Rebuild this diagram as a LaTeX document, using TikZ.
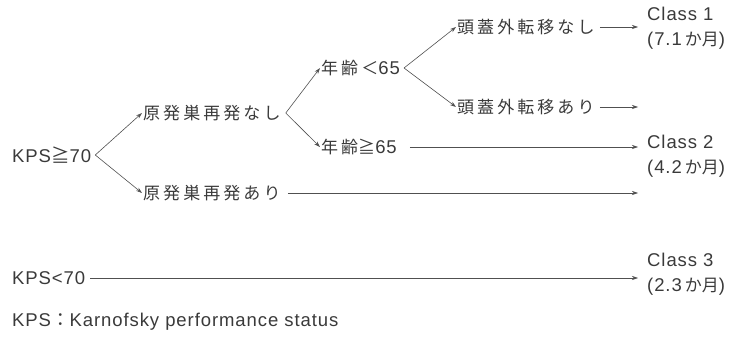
\documentclass[tikz,border=0pt]{standalone}
\usepackage{fontspec}
\usetikzlibrary{arrows.meta}
\setmainfont{Liberation Sans}
\newfontfamily\jp[LetterSpace=18]{Noto Sans CJK JP}
\newfontfamily\jpn{Noto Sans CJK JP}
\newfontfamily\lat[LetterSpace=5]{Liberation Sans}
\definecolor{ink}{HTML}{3A3A3A}
\definecolor{wire}{HTML}{505050}
\tikzset{
  lbl/.style={anchor=west, inner sep=1pt, text=ink, font=\fontsize{17}{20}\selectfont},
  cls/.style={anchor=west, inner sep=1pt, text=ink, align=left, font=\fontsize{18.5}{25}\selectfont},
  arr/.style={draw=wire, line width=0.6pt, -{Stealth[length=6pt,width=4pt]}},
}
\begin{document}
\begin{tikzpicture}[x=1pt,y=-1pt]
\useasboundingbox (0,0) rectangle (739,337);
\node[lbl] (k70) at (11,155) {{\fontsize{18.5}{20}\selectfont\lat KPS\jpn ≧\lat 70}};
\node[lbl] (n1) at (142,113) {\jp 原発巣再発なし};
\node[lbl] (n2) at (142,193) {\jp 原発巣再発あり};
\node[lbl] (a1) at (320,68) {\jp 年齢＜{\fontsize{18.5}{20}\selectfont\lat 65}};
\node[lbl] (a2) at (320,147) {\jp 年齢\jpn ≧{\fontsize{18.5}{20}\selectfont\lat 65}};
\node[lbl] (e1) at (456,27) {\jp 頭蓋外転移なし};
\node[lbl] (e2) at (456,107) {\jp 頭蓋外転移あり};
\node[cls] (c1) at (646,28) {{\lat Class 1}\\{\lat (7.1\,}{\fontsize{17}{20}\selectfont\jp か\jpn 月}{\lat )}};
\node[cls] (c2) at (646,156) {{\lat Class 2}\\{\lat (4.2\,}{\fontsize{17}{20}\selectfont\jp か\jpn 月}{\lat )}};
\node[cls] (c3) at (646,274) {{\lat Class 3}\\{\lat (2.3\,}{\fontsize{17}{20}\selectfont\jp か\jpn 月}{\lat )}};
\node[lbl] (k2) at (11,278) {{\fontsize{18.5}{20}\selectfont\lat KPS<70}};
\node[lbl] (note) at (11,322) {{\fontsize{18.5}{20}\selectfont\lat KPS\jpn ：\lat Karnofsky performance status}};
\coordinate (tip) at (638,0);
\coordinate (b0) at ([xshift=3pt]k70.east);
\coordinate (b1) at ([xshift=4pt]n1.east);
\coordinate (b2) at ([xshift=3pt]a1.east);
% branches
\draw[arr] (b0) -- (n1.west);
\draw[arr] (b0) -- (n2.west);
\draw[arr] (b1) -- (a1.west);
\draw[arr] (b1) -- (a2.west);
\draw[arr] (b2) -- (e1.west);
\draw[arr] (b2) -- (e2.west);
% horizontal
\draw[arr] ([xshift=4pt]e1.east) -- (e1.east -| tip);
\draw[arr] ([xshift=4pt]e2.east) -- (e2.east -| tip);
\draw[arr] ([xshift=12pt]a2.east) -- (a2.east -| tip);
\draw[arr] ([xshift=6pt]n2.east) -- (n2.east -| tip);
\draw[arr] ([xshift=4pt]k2.east) -- (k2.east -| tip);
\end{tikzpicture}
\end{document}
